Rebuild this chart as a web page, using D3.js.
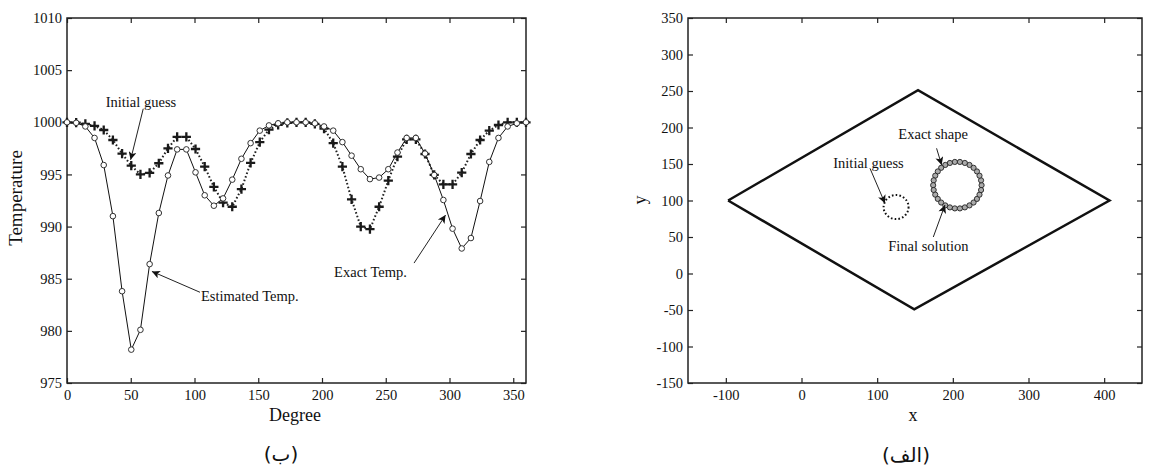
<!DOCTYPE html>
<html><head><meta charset="utf-8">
<script src="https://cdn.jsdelivr.net/npm/d3@7"></script>
<style>
html,body{margin:0;padding:0;background:#fff;}
svg text{font-family:"Liberation Serif","Times New Roman",serif;fill:#111;}
</style></head>
<body>
<svg id="c" width="1150" height="466"></svg>
<script>
// ---------- Data: left chart (temperature vs degree) ----------
const degrees = [0,7.2,14.4,21.6,28.8,36,43.2,50.4,57.6,64.8,72,79.2,86.4,93.6,100.8,108,115.2,122.4,129.6,136.8,
  144,151.2,158.4,165.6,172.8,180,187.2,194.4,201.6,208.8,216,223.2,230.4,237.6,244.8,252,259.2,266.4,273.6,280.8,
  288,295.2,302.4,309.6,316.8,324,331.2,338.4,345.6,352.8,360];
const estimatedTemp = [1000,999.95,999.6,998.5,995.9,991.0,983.8,978.2,980.1,986.4,991.3,994.9,997.4,997.4,995.2,993.0,992.0,992.7,994.5,996.5,
  998.0,999.2,999.7,999.9,1000,1000,1000,999.9,999.6,999.2,998.1,996.8,995.5,994.55,994.7,995.5,997.1,998.5,998.5,997.0,
  994.95,992.55,989.8,987.9,988.9,992.45,996.2,998.5,999.6,999.9,1000];
const initialTemp = [1000,999.96,999.84,999.65,999.26,998.3,997.0,995.84,995.0,995.15,996.07,997.5,998.6,998.6,997.44,995.74,993.8,992.3,991.9,993.6,
  996.1,998.1,999.3,999.75,999.95,1000,1000,999.84,999.4,998.0,995.74,992.6,990.0,989.75,991.9,994.4,996.7,998.37,998.37,996.96,
  994.95,994.05,994.05,995.17,996.96,998.3,999.2,999.74,1000,1000,1000];
const leftXTicks = [0,50,100,150,200,250,300,350];
const leftYTicks = [975,980,985,990,995,1000,1005,1010];
// annotations: [label, textX, textY, arrowFromX, arrowFromY, arrowToX, arrowToY, anchor] in data units
const leftNotes = [
  ["Initial guess", 58, 1001.5, 59.8, 1001.3, 49.9, 996.4, "middle"],
  ["Estimated Temp.", 105, 982.9, 104.3, 983.7, 66.6, 985.7, "start"],
  ["Exact Temp.", 209.5, 985.2, 272.2, 986.5, 296.9, 991.1, "start"]
];

// ---------- Data: right chart (geometry) ----------
const boundaryX = [-97,154,407,149,-97];
const boundaryY = [100,251,100,-49,100];
const exactShape = {cx:206, cy:121, r:32, markers:30};
const finalShape = {cx:206, cy:121, r:32};
const initialShape = {cx:125, cy:91, r:16.5};
const rightXTicks = [-100,0,100,200,300,400];
const rightYTicks = [-150,-100,-50,0,50,100,150,200,250,300,350];
const rightNotes = [
  ["Initial guess", 42, 144.5, 90.5, 144.1, 110.3, 96.2, "start"],
  ["Exact shape", 128, 184.2, 178.5, 171.5, 185.2, 148.6, "start"],
  ["Final solution", 114.7, 30.8, 174.2, 50, 189.6, 93.8, "start"]
];
const subtitles = ["(ب)", "(الف)"];

// ---------- Drawing ----------
const svg = d3.select("#c");
svg.append("rect").attr("width",1150).attr("height",466).attr("fill","#fff");
const defs = svg.append("defs");
defs.append("marker").attr("id","ah").attr("viewBox","0 0 10 10").attr("refX",10).attr("refY",5)
  .attr("markerWidth",10).attr("markerHeight",8).attr("markerUnits","userSpaceOnUse").attr("orient","auto")
  .append("path").attr("d","M0,0L10,5L0,10L2.5,5Z").attr("fill","#111");

const fmt = d => String(d); // plain hyphen for negatives

function frame(g, x, y, xt, yt){
  const [x0,x1] = x.range(), [y1,y0] = y.range();
  const tickFont = "14.5px";
  const bottom = g.append("g").attr("transform",`translate(0,${y1})`)
    .call(d3.axisBottom(x).tickValues(xt).tickSize(-5).tickSizeOuter(0).tickPadding(7).tickFormat(fmt));
  const left = g.append("g").attr("transform",`translate(${x0},0)`)
    .call(d3.axisLeft(y).tickValues(yt).tickSize(-5).tickSizeOuter(0).tickPadding(5).tickFormat(fmt));
  const top = g.append("g").attr("transform",`translate(0,${y0})`)
    .call(d3.axisTop(x).tickValues(xt).tickSize(-5).tickSizeOuter(0).tickFormat(""));
  const right = g.append("g").attr("transform",`translate(${x1},0)`)
    .call(d3.axisRight(y).tickValues(yt).tickSize(-5).tickSizeOuter(0).tickFormat(""));
  [bottom,left,top,right].forEach(a=>{
    a.select(".domain").remove();
    a.selectAll("line").attr("stroke","#222").attr("stroke-width",1.2);
    a.selectAll("text").attr("font-family","Liberation Serif").attr("font-size",tickFont).attr("fill","#111");
  });
  g.append("rect").attr("x",x0).attr("y",y0).attr("width",x1-x0).attr("height",y1-y0)
    .attr("fill","none").attr("stroke","#222").attr("stroke-width",1.5);
}

function notes(g, x, y, list){
  list.forEach(n=>{
    g.append("text").attr("x",x(n[1])).attr("y",y(n[2])).attr("text-anchor",n[7])
      .attr("font-size","14.5px").text(n[0]);
    g.append("line").attr("x1",x(n[3])).attr("y1",y(n[4])).attr("x2",x(n[5])).attr("y2",y(n[6]))
      .attr("stroke","#222").attr("stroke-width",1).attr("marker-end","url(#ah)");
  });
}

// Left chart
const xL = d3.scaleLinear().domain([0,360]).range([67,526]);
const yL = d3.scaleLinear().domain([975,1010]).range([383,18]);
const gL = svg.append("g");
frame(gL, xL, yL, leftXTicks, leftYTicks);

const lineL = d3.line().x((d,i)=>xL(degrees[i])).y(d=>yL(d));
gL.append("path").datum(initialTemp).attr("d",lineL).attr("fill","none")
  .attr("stroke","#222").attr("stroke-width",2).attr("stroke-dasharray","1.6,2.2");
gL.append("path").datum(estimatedTemp).attr("d",lineL).attr("fill","none")
  .attr("stroke","#111").attr("stroke-width",1);
gL.selectAll(".pl").data(initialTemp).enter().append("path")
  .attr("transform",(d,i)=>`translate(${xL(degrees[i])},${yL(d)})`)
  .attr("d","M-4.6,0H4.6M0,-4.6V4.6").attr("stroke","#1a1a1a").attr("stroke-width",2.3);
gL.selectAll(".ci").data(estimatedTemp).enter().append("circle")
  .attr("cx",(d,i)=>xL(degrees[i])).attr("cy",d=>yL(d)).attr("r",2.8)
  .attr("fill","#fff").attr("stroke","#333").attr("stroke-width",1);
notes(gL, xL, yL, leftNotes);
gL.append("text").attr("x",295).attr("y",421).attr("text-anchor","middle").attr("font-size","18px").text("Degree");
gL.append("text").attr("transform","translate(22,198) rotate(-90)").attr("text-anchor","middle")
  .attr("font-size","19px").text("Temperature");

// Right chart
const xR = d3.scaleLinear().domain([-150,450]).range([688,1142]);
const yR = d3.scaleLinear().domain([-150,350]).range([383,18]);
const gR = svg.append("g");
frame(gR, xR, yR, rightXTicks, rightYTicks);

gR.append("path").datum(boundaryX.map((v,i)=>[v,boundaryY[i]]))
  .attr("d",d3.line().x(d=>xR(d[0])).y(d=>yR(d[1])))
  .attr("fill","none").attr("stroke","#111").attr("stroke-width",2.5).attr("stroke-linejoin","miter");

const sx = xR(1)-xR(0), sy = yR(0)-yR(1);
gR.append("ellipse").attr("cx",xR(initialShape.cx)).attr("cy",yR(initialShape.cy))
  .attr("rx",initialShape.r*sx).attr("ry",initialShape.r*sy)
  .attr("fill","none").attr("stroke","#111").attr("stroke-width",2).attr("stroke-dasharray","1.6,2.2");
gR.append("ellipse").attr("cx",xR(finalShape.cx)).attr("cy",yR(finalShape.cy))
  .attr("rx",finalShape.r*sx).attr("ry",finalShape.r*sy)
  .attr("fill","none").attr("stroke","#111").attr("stroke-width",1.2);
const angles = d3.range(exactShape.markers).map(k=>2*Math.PI*k/exactShape.markers);
gR.selectAll(".em").data(angles).enter().append("circle")
  .attr("cx",a=>xR(exactShape.cx + exactShape.r*Math.cos(a)))
  .attr("cy",a=>yR(exactShape.cy + exactShape.r*Math.sin(a)))
  .attr("r",2.6).attr("fill","#aaa").attr("stroke","#222").attr("stroke-width",0.9);
notes(gR, xR, yR, rightNotes);
gR.append("text").attr("x",913).attr("y",421).attr("text-anchor","middle").attr("font-size","18px").text("x");
gR.append("text").attr("transform","translate(646,200) rotate(-90)").attr("text-anchor","middle")
  .attr("font-size","18px").text("y");

// Subtitles
svg.append("text").attr("x",281).attr("y",461).attr("text-anchor","middle")
  .style("font-family","DejaVu Sans").attr("font-size","20px").text(subtitles[0]);
svg.append("text").attr("x",906).attr("y",462).attr("text-anchor","middle")
  .style("font-family","DejaVu Sans").attr("font-size","20px").text(subtitles[1]);
</script>
</body></html>
